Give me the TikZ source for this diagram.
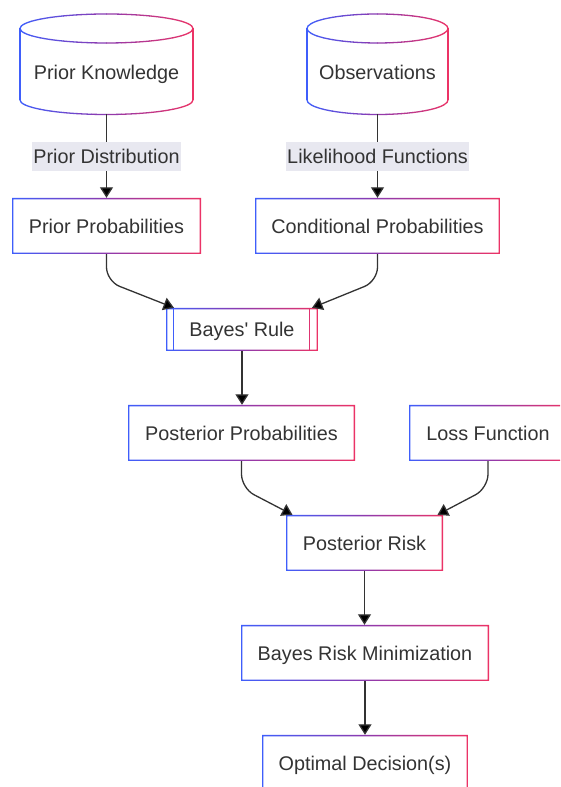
\documentclass[tikz,border=0pt]{standalone}
\usepackage{fontspec}
\setmainfont{Liberation Sans}
\usetikzlibrary{arrows.meta}
\definecolor{bblue}{HTML}{3F5EFB}
\definecolor{bpurple}{HTML}{8E3AAE}
\definecolor{bred}{HTML}{EC3366}
\definecolor{txt}{HTML}{333333}
\definecolor{lblbg}{HTML}{E8E8F0}
\definecolor{edgec}{HTML}{333333}

\newcommand{\gradseg}[5]{%
  \pgfmathsetmacro\gt{(1+cos(#5+5))/2}%
  \ifdim\gt pt<0.5pt
    \pgfmathtruncatemacro\gp{200*\gt}\colorlet{segc}{bpurple!\gp!bblue}%
  \else
    \pgfmathtruncatemacro\gp{200*\gt-100}\colorlet{segc}{bred!\gp!bpurple}%
  \fi
  \draw[segc, line width=1.3pt, line cap=round] ({#1+#3*cos(#5)},{#2+#4*sin(#5)})
    arc[start angle=#5, end angle=#5+10, x radius=#3, y radius=#4];
}
\newcommand{\gradcyl}[5]{%
  \pgfmathsetmacro\gcx{(#1+#2)/2}\pgfmathsetmacro\grx{(#2-#1)/2}%
  \fill[white] (#1,#3) -- (#1,#4) arc[start angle=180,end angle=360,x radius=\grx,y radius=#5]
     -- (#2,#3) arc[start angle=0,end angle=180,x radius=\grx,y radius=#5] -- cycle;
  \draw[bblue,line width=1.3pt] (#1,#3) -- (#1,#4);
  \draw[bred,line width=1.3pt] (#2,#3) -- (#2,#4);
  \foreach \a in {0,10,...,350}{\gradseg{\gcx}{#3}{\grx}{#5}{\a}}
  \foreach \a in {180,190,...,350}{\gradseg{\gcx}{#4}{\grx}{#5}{\a}}
}

\tikzset{
  x=1pt, y=1pt,
  lab/.style={text=txt, font=\fontsize{19.8}{24}\selectfont, text height=14.2pt, text depth=0pt},
  box/.style={lab, rectangle, minimum height=56pt, inner sep=0pt, fill=white,
    path picture={\shade[left color=bblue, right color=bred, middle color=bpurple, even odd rule]
      (path picture bounding box.south west) rectangle (path picture bounding box.north east)
      ([shift={(1.3pt,1.3pt)}]path picture bounding box.south west) rectangle
      ([shift={(-1.3pt,-1.3pt)}]path picture bounding box.north east);}},
  elabel/.style={lab, fill=lblbg, inner xsep=1pt, inner ysep=0pt, minimum height=29pt},
  arr/.style={draw=edgec, line width=1.3pt, -{Triangle[length=10.5pt,width=13pt,fill=black]}},
}

\begin{document}
\begin{tikzpicture}
\clip (0,0) rectangle (560,787);
\fill[white] (0,0) rectangle (560,787);

% cylinders
\gradcyl{20}{193}{758.5}{687}{14.5}
\gradcyl{307}{448}{758.5}{687}{14.5}
\node[lab] (pk) at (106.5,715) {Prior Knowledge};
\node[lab] (obs) at (377.5,715) {Observations};
\coordinate (pkb) at (106.5,672.5);
\coordinate (obsb) at (377.5,672.5);

% boxes
\node[box, minimum width=189pt] (pp) at (106.5,561) {Prior Probabilities};
\node[box, minimum width=245pt] (cp) at (377.5,561) {Conditional Probabilities};
\node[box, minimum width=152pt, minimum height=43pt] (br) at (242,457.5) {Bayes\textquotesingle{} Rule};
\draw[bblue, line width=1.3pt] ([xshift=8pt]br.north west) -- ([xshift=8pt]br.south west);
\draw[bred!85!bpurple, line width=1.3pt] ([xshift=-9pt]br.north east) -- ([xshift=-9pt]br.south east);
\node[box, minimum width=227pt] (postp) at (241.5,354) {Posterior Probabilities};
\node[box, minimum width=158pt] (loss) at (488,354) {Loss Function};
\node[box, minimum width=157pt] (pr) at (364.5,244) {Posterior Risk};
\node[box, minimum width=248pt] (brm) at (365,134) {Bayes Risk Minimization};
\node[box, minimum width=206pt] (od) at (365,24) {Optimal Decision(s)};

% edges
\draw[arr] (pkb) -- node[elabel] {Prior Distribution} (pp.north);
\draw[arr] (obsb) -- node[elabel] {Likelihood Functions} (cp.north);
\draw[arr, rounded corners=14pt] (pp.south) -- ++(0,-27) -- ([xshift=-68pt]br.north);
\draw[arr, rounded corners=14pt] (cp.south) -- ++(0,-27) -- ([xshift=70pt]br.north);
\draw[arr] (br.south) -- (br.south |- postp.north);
\draw[arr, rounded corners=14pt] (postp.south) -- ++(0,-27) -- ([xshift=-72pt]pr.north);
\draw[arr, rounded corners=14pt] (loss.south) -- ++(0,-27) -- ([xshift=73pt]pr.north);
\draw[arr] (pr.south) -- (pr.south |- brm.north);
\draw[arr] (brm.south) -- (brm.south |- od.north);
\end{tikzpicture}
\end{document}
